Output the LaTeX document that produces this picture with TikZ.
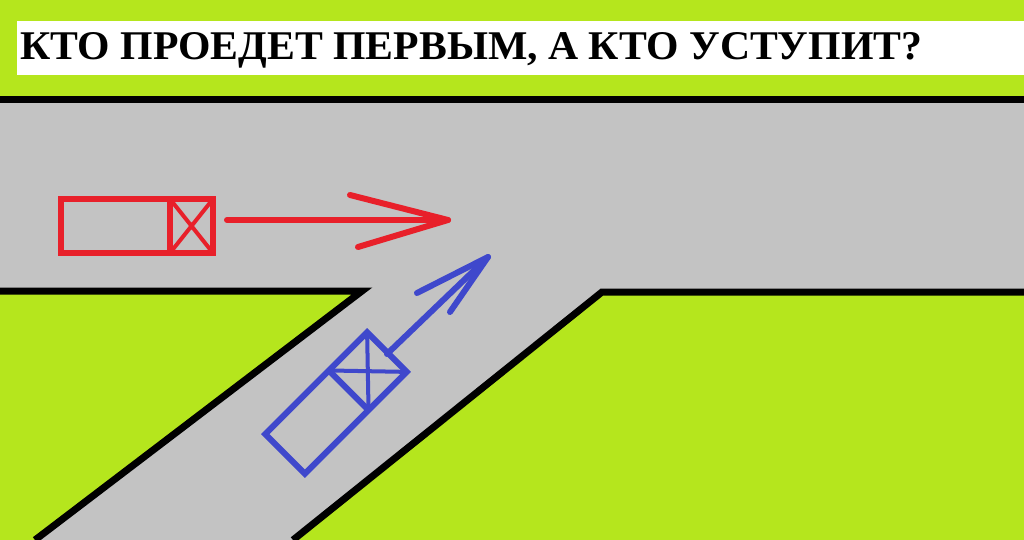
\documentclass[tikz,border=0pt]{standalone}
\usepackage{fontspec}
\setmainfont{Liberation Serif}
\definecolor{lime}{RGB}{181,230,29}
\definecolor{roadgray}{RGB}{195,195,195}
\definecolor{carred}{RGB}{232,32,42}
\definecolor{carblue}{RGB}{63,72,204}
\tikzset{
  edge/.style={line width=7pt, black, line join=miter},
  carline/.style={line width=6pt, line join=miter},
  crossline/.style={line width=4pt},
  arrline/.style={line width=6pt, line cap=round, line join=round},
}
\begin{document}
\begin{tikzpicture}[x=1pt,y=-1pt]
\useasboundingbox (0,0) rectangle (1024,540);
% background and road
\fill[lime] (0,0) rectangle (1024,540);
\fill[roadgray] (0,100) rectangle (1024,291.5);
\fill[roadgray] (362,290) -- (602,290) -- (293,540) -- (35,540) -- cycle;
\draw[edge] (0,100) -- (1024,100);
\draw[edge] (0,291) -- (362,291) -- (35,540);
\draw[edge] (1024,292) -- (602,292) -- (293,540);
% title
\fill[white] (17,21) rectangle (1024,75);
\node[anchor=base west, inner sep=0pt] (title) at (20,60)
  {\resizebox{902pt}{27pt}{\bfseries КТО ПРОЕДЕТ ПЕРВЫМ, А КТО УСТУПИТ?}};
% red car
\begin{scope}[shift={(137,226)}, carred]
  \draw[carline] (-76,-27) rectangle (76,27);
  \draw[carline] (33,-27) -- (33,27);
  \draw[crossline] (33,-27) -- (76,27) (33,27) -- (76,-27);
\end{scope}
% red arrow
\coordinate (rs) at (227,220);
\coordinate (rt) at (448,220);
\coordinate (rb1) at (350,195);
\coordinate (rb2) at (358,247);
\draw[arrline, carred] (rs) -- (rt);
\draw[arrline, carred] (rb1) -- (rt) -- (rb2);
% blue car
\begin{scope}[shift={(336,403)}, rotate=45, carblue]
  \draw[carline] (-72,-28) rectangle (72,28);
  \draw[carline] (18,-28) -- (18,28);
  \draw[crossline] (18,-28) -- (72,28) (18,28) -- (72,-28);
\end{scope}
% blue arrow
\coordinate (bs) at (387,354);
\coordinate (bt) at (488,257);
\coordinate (bb1) at (417,293);
\coordinate (bb2) at (450,312);
\draw[arrline, carblue] (bs) -- (bt);
\draw[arrline, carblue] (bb1) -- (bt) -- (bb2);
\end{tikzpicture}
\end{document}
